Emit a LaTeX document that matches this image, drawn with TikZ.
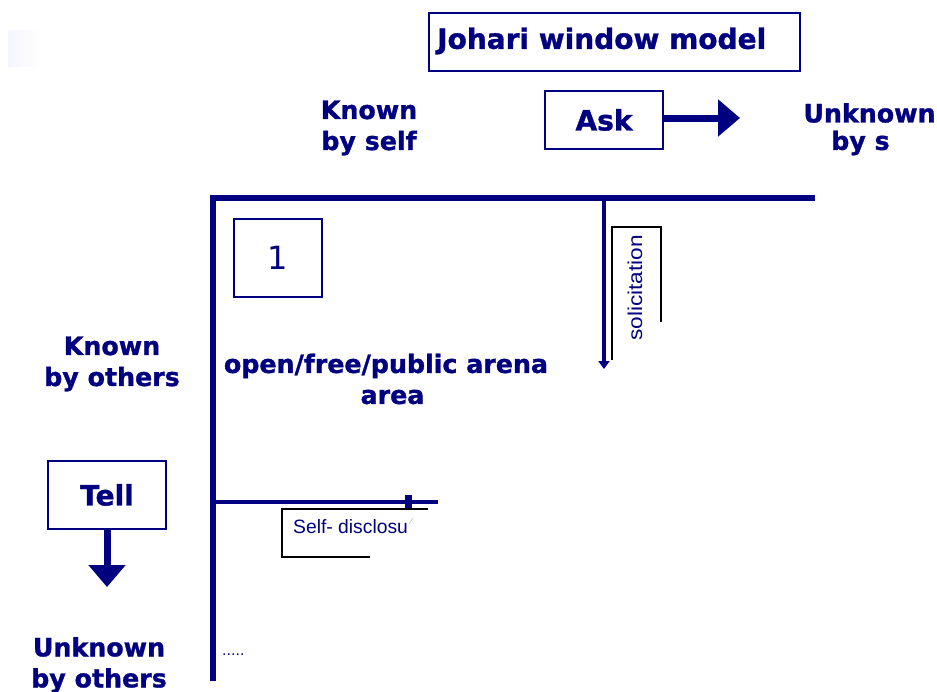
\documentclass[tikz,border=0pt]{standalone}
\usepackage{fontspec}
\setmainfont{DejaVu Sans}[BoldFeatures={FakeBold=1.2}]
\newfontfamily\notefont{Liberation Sans}
\usetikzlibrary{arrows.meta}
\definecolor{navy}{RGB}{0,0,128}
\begin{document}
\begin{tikzpicture}[x=1pt,y=-1pt,
  lbl/.style={text=navy, font=\fontsize{25.3}{31}\selectfont\bfseries, align=center, inner sep=0},
  cmd/.style={text=navy, font=\fontsize{28}{32}\selectfont\bfseries, inner sep=0},
  frame/.style={draw=navy, line width=2},
  bar/.style={draw=navy, line width=6},
  note/.style={text=navy, font=\notefont\fontsize{20}{22}\selectfont, inner sep=0},
  bracket/.style={draw=black, line width=1.3},
  bigarrow/.style={draw=navy, line width=7, -{Triangle[length=22pt,width=36pt]}}]
\useasboundingbox (0,0) rectangle (937,691);

% faint patch in the upper left
\shade[left color=blue!4!white, right color=white] (8,30) rectangle (42,66);

% title
\node[frame, minimum width=371, minimum height=58] (titlebox) at (614.5,42) {};
\node[lbl, font=\fontsize{28}{34}\selectfont\bfseries, anchor=west] (title) at (437,41) {Johari window model};

% column headings
\node[lbl] (kself) at (369,128) {Known\\by self};
\node[frame, cmd, minimum width=118, minimum height=58] (ask) at (604,120) {Ask};
\coordinate (askend) at (740,118);
\draw[bigarrow] ([yshift=2pt]ask.east) -- (askend);
\node[lbl] (unk1) at (869.5,113) {Unknown};
\node[lbl, anchor=west] (unk2) at (831,143) {by s};

% window frame
\coordinate (hl) at (210,198);
\coordinate (hr) at (815,198);
\coordinate (vt) at (213,195);
\coordinate (vb) at (213,681);
\draw[bar] (hl) -- (hr);
\draw[bar] (vt) -- (vb);

% pane 1
\node[frame, minimum width=88, minimum height=78, text=navy, font=\fontsize{32}{36}\selectfont] (pane) at (278,258) {1};
\node[lbl] (arena) at (386,379) {open/free/public arena\\\hspace*{13pt}area};

% solicitation
\coordinate (st) at (604,198);
\coordinate (sb) at (604,369);
\draw[draw=navy, line width=4.5, -{Triangle[length=8pt,width=11pt]}] (st) -- (sb);
\coordinate (s1) at (612,360);
\coordinate (s2) at (612,227);
\coordinate (s3) at (661,227);
\coordinate (s4) at (661,322);
\draw[bracket] (s1) -- (s2) -- (s3) -- (s4);
\node[note, rotate=90] (solic) at (635,288) {\scalebox{1.13}[1]{solicitation}};

% row headings
\node[lbl] (kothers) at (112,364) {Known\\by others};
\node[frame, cmd, minimum width=118, minimum height=68] (tell) at (107,495) {Tell};
\coordinate (tellend) at (107,587);
\draw[bigarrow] (tell.south) -- (tellend);
\node[lbl] (uothers) at (99,665) {Unknown\\by others};

% self-disclosure
\coordinate (dl) at (213,502);
\coordinate (dr) at (438,502);
\draw[draw=navy, line width=4] (dl) -- (dr);
\fill[navy] (405,495) rectangle (412,508);
\coordinate (d1) at (428,509);
\coordinate (d2) at (282,509);
\coordinate (d3) at (282,557);
\coordinate (d4) at (370,557);
\draw[bracket] (d1) -- (d2) -- (d3) -- (d4);
\node[note, font=\notefont\fontsize{19.3}{22}\selectfont, anchor=west] (disc) at (293,527) {Self- disclosu};
\draw[gray!50, line width=0.6] (409,524) -- (413,518);

% dots
\node[text=navy, font=\fontsize{14}{16}\selectfont, anchor=west, inner sep=0] (dots) at (222,655) {.....};
\end{tikzpicture}
\end{document}
